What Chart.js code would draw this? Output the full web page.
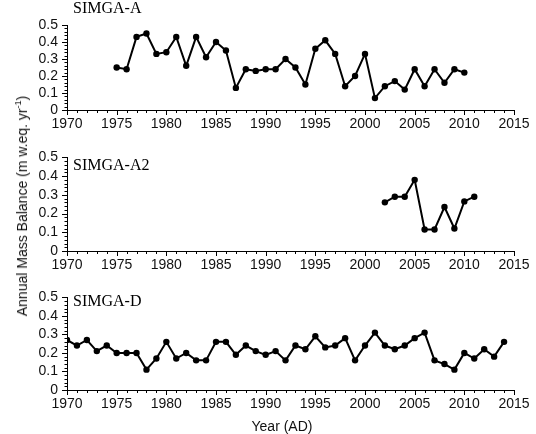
<!DOCTYPE html>
<html>
<head>
<meta charset="utf-8">
<script src="https://cdn.jsdelivr.net/npm/chart.js@4.4.1/dist/chart.umd.min.js"></script>
<style>
body { margin: 0; background: #fff; }
#wrap { position: relative; width: 536px; height: 434px; overflow: hidden; }
#wrap canvas { position: absolute; left: 0; }
.lbl { position: absolute; white-space: nowrap; font-family: "Liberation Sans", Arial, sans-serif; font-size: 14px; color: #111; }
#ytitle { left: 22px; top: 206px; transform: translate(-50%, -50%) rotate(-90deg); }
#xtitle { left: 282px; top: 426px; transform: translate(-50%, -50%); }
sup { font-size: 9px; vertical-align: 6px; line-height: 0; }
</style>
</head>
<body>
<div id="wrap">
  <canvas id="c1" width="536" height="140" style="top:0px;width:536px;height:140px"></canvas>
  <canvas id="c2" width="536" height="140" style="top:140px;width:536px;height:140px"></canvas>
  <canvas id="c3" width="536" height="154" style="top:280px;width:536px;height:154px"></canvas>
  <div class="lbl" id="ytitle">Annual Mass Balance (m w.eq. yr<sup>-1</sup>)</div>
  <div class="lbl" id="xtitle">Year (AD)</div>
</div>
<script>
// SIMGA-A
var yearsA = [1975, 1976, 1977, 1978, 1979, 1980, 1981, 1982, 1983, 1984, 1985, 1986, 1987, 1988, 1989, 1990, 1991, 1992,
    1993, 1994, 1995, 1996, 1997, 1998, 1999, 2000, 2001, 2002, 2003, 2004, 2005, 2006, 2007, 2008, 2009, 2010];
var valuesA = [0.25, 0.24, 0.43, 0.45, 0.33, 0.34, 0.43, 0.26, 0.43, 0.31, 0.40, 0.35, 0.13, 0.24, 0.23, 0.24, 0.24, 0.30,
    0.25, 0.15, 0.36, 0.41, 0.33, 0.14, 0.20, 0.33, 0.07, 0.14, 0.17, 0.12, 0.24, 0.14, 0.24, 0.16, 0.24, 0.22];

// SIMGA-A2
var yearsA2 = [2002, 2003, 2004, 2005, 2006, 2007, 2008, 2009, 2010, 2011];
var valuesA2 = [0.26, 0.29, 0.29, 0.38, 0.115, 0.115, 0.235, 0.12, 0.265, 0.29];

// SIMGA-D
var yearsD = [1970, 1971, 1972, 1973, 1974, 1975, 1976, 1977, 1978, 1979, 1980, 1981, 1982, 1983, 1984, 1985, 1986, 1987,
    1988, 1989, 1990, 1991, 1992, 1993, 1994, 1995, 1996, 1997, 1998, 1999, 2000, 2001, 2002, 2003, 2004, 2005, 2006,
    2007, 2008, 2009, 2010, 2011, 2012, 2013, 2014];
var valuesD = [0.27, 0.24, 0.27, 0.21, 0.24, 0.20, 0.20, 0.20, 0.11, 0.17, 0.26, 0.17, 0.20, 0.16, 0.16, 0.26, 0.26, 0.19,
    0.24, 0.21, 0.19, 0.21, 0.16, 0.24, 0.22, 0.29, 0.23, 0.24, 0.28, 0.16, 0.24, 0.31, 0.24, 0.22, 0.24, 0.28, 0.31,
    0.16, 0.14, 0.11, 0.20, 0.17, 0.22, 0.18, 0.26];

var xMin = 1970, xMax = 2015;
var yMin = 0, yMax = 0.5;
var yTickLabels = ["0", "0.1", "0.2", "0.3", "0.4", "0.5"];

const tickFont = { family: "'Liberation Sans', Arial, sans-serif", size: 14 };

// ruler style ticks + panel name, drawn from the scales
const axisTicks = {
    id: "axisTicks",
    afterDraw(chart, args, opts) {
        let ctx = chart.ctx;
        let xs = chart.scales.x;
        let ys = chart.scales.y;
        ctx.save();
        ctx.strokeStyle = "#000";
        ctx.lineWidth = 1;
        for (let yr = xMin; yr <= xMax; yr++) {
            let px = Math.round(xs.getPixelForValue(yr)) + 0.5;
            let len = yr % 5 == 0 ? 5 : 3;
            ctx.beginPath();
            ctx.moveTo(px, ys.bottom);
            ctx.lineTo(px, ys.bottom + len);
            ctx.stroke();
        }
        for (let i = 0; i <= 25; i++) {
            let py = Math.round(ys.getPixelForValue(i * 0.02)) + 0.5;
            let len = i % 5 == 0 ? 5 : 2.5;
            ctx.beginPath();
            ctx.moveTo(xs.left, py);
            ctx.lineTo(xs.left - len, py);
            ctx.stroke();
        }
        ctx.fillStyle = "#000";
        ctx.font = "16px 'Liberation Serif', 'Times New Roman', serif";
        ctx.textBaseline = "alphabetic";
        ctx.fillText(opts.name, xs.left + 6, ys.top + opts.nameOffset);
        ctx.restore();
    },
};

function makePanel(id, years, values, name, nameOffset, padTop, axisH) {
    let points = years.map((yr, i) => ({ x: yr, y: values[i] }));
    return new Chart(document.getElementById(id), {
        type: "line",
        data: {
            datasets: [
                {
                    data: points,
                    borderColor: "#000",
                    borderWidth: 2,
                    backgroundColor: "#000",
                    pointRadius: 3.2,
                    pointBackgroundColor: "#000",
                    pointBorderWidth: 0,
                    tension: 0,
                },
            ],
        },
        options: {
            responsive: false,
            animation: false,
            layout: { padding: { top: padTop, right: 22, left: 0, bottom: 0 } },
            plugins: {
                legend: { display: false },
                tooltip: { enabled: false },
                axisTicks: { name: name, nameOffset: nameOffset },
            },
            scales: {
                x: {
                    type: "linear",
                    min: xMin,
                    max: xMax,
                    ticks: {
                        stepSize: 5,
                        autoSkip: false,
                        maxRotation: 0,
                        padding: 6,
                        color: "#111",
                        font: tickFont,
                        callback: (v) => String(v),
                    },
                    grid: { display: false, drawTicks: false },
                    border: { display: true, color: "#000", width: 1 },
                    afterFit: (s) => {
                        s.height = axisH;
                    },
                },
                y: {
                    min: yMin,
                    max: yMax,
                    ticks: {
                        stepSize: 0.1,
                        autoSkip: false,
                        padding: 9,
                        color: "#111",
                        font: tickFont,
                        callback: (v) => yTickLabels[Math.round(v * 10)],
                    },
                    grid: { display: false, drawTicks: false },
                    border: { display: true, color: "#000", width: 1 },
                    afterFit: (s) => {
                        s.width = 67;
                    },
                },
            },
        },
        plugins: [axisTicks],
    });
}

makePanel("c1", yearsA, valuesA, "SIMGA-A", -12, 25, 30);
makePanel("c2", yearsA2, valuesA2, "SIMGA-A2", 13, 17, 29);
makePanel("c3", yearsD, valuesD, "SIMGA-D", 9, 17, 44);
</script>
</body>
</html>
